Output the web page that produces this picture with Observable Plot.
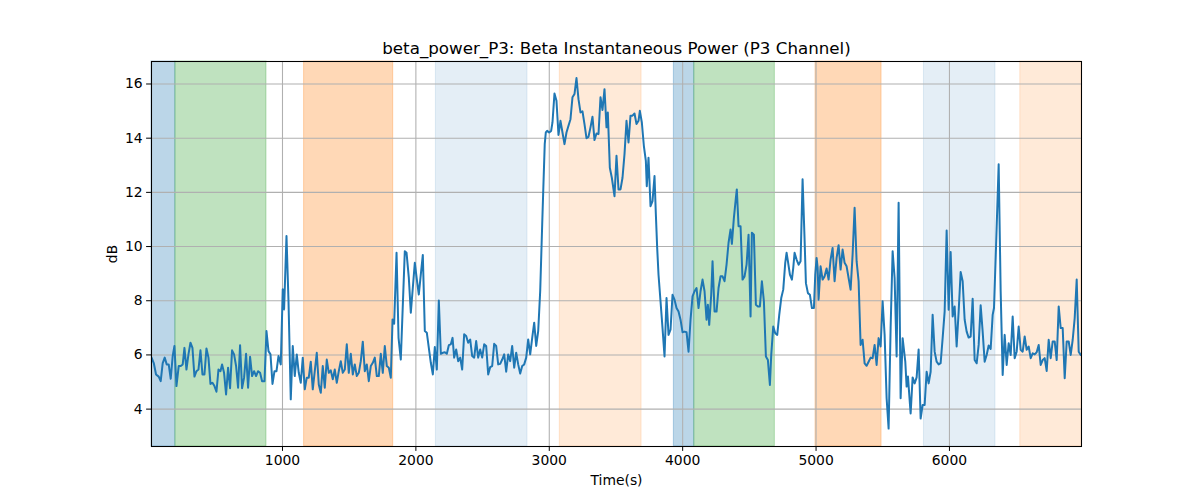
<!DOCTYPE html>
<html><head><meta charset="utf-8">
<script src="https://cdn.jsdelivr.net/npm/d3@7"></script>
<script src="https://cdn.jsdelivr.net/npm/@observablehq/plot@0.6"></script>
<style>body{margin:0;background:#fff}</style>
</head><body><div id="chart"></div>
<script>
const title = "beta_power_P3: Beta Instantaneous Power (P3 Channel)";
const xLabel = "Time(s)";
const yLabel = "dB";
const xTicks = [1000, 2000, 3000, 4000, 5000, 6000];
const yTicks = [4, 6, 8, 10, 12, 14, 16];

const times = [
18,35,52,72,87,102,117,132,147,162,177,190,205,222,237,252,265,280,295,310,325,340,355,370,385,400,415,430,445,460,475,490,505,520,535,547,562,577,592,607,622,637,652,667,682,697,712,727,742,757,772,787,802,817,832,847,865,880,895,910,925,940,955,970,
987,1002,1012,1030,1045,1062,1077,1092,1107,1122,1137,1152,1167,1182,1197,1212,1227,1242,1257,1272,1287,1302,1317,1332,1347,1362,1377,1392,1407,1422,1437,1452,1467,1482,1497,1512,1527,1542,1557,1572,1587,1602,1617,1632,1647,1662,1677,1692,1707,1722,1737,1752,1767,1782,1797,1812,
1825,1837,1855,1870,1887,1917,1930,1947,1962,1977,1992,2007,2022,2037,2052,2067,2082,2097,2112,2127,2142,2157,2172,2187,2202,2217,2232,2247,2262,2275,2287,2302,2317,2332,2347,2362,2377,2392,2407,2422,2437,2452,2467,2482,2497,2512,2527,2542,2557,2572,2587,2602,2617,2632,2647,2662,2677,2692,2707,2722,2737,2752,2767,2782,2797,2812,2827,2842,2857,2872,2887,2902,2917,2932,2947,2957,2966,
2974,2984,2999,3014,3024,3039,3054,3069,3084,3099,3114,3129,3144,3159,3174,3189,3204,3219,3234,3249,3264,3279,3294,3309,3324,3339,3354,3369,3384,3399,3414,3429,3439,3454,3469,3489,3504,3519,3534,3549,3564,3579,3594,3609,3624,3639,3654,3669,
3679,3694,3709,3724,3731,3744,3759,3774,3789,3799,3809,3819,3834,3849,3864,3879,3894,3909,3924,3939,3954,3969,3984,3999,4014,4029,4044,4059,4074,4089,4104,4119,4134,4149,4164,4179,4189,4199,4214,4224,4239,4254,4269,4284,4299,4314,4329,4344,
4359,4369,4384,4399,4406,4419,4434,4449,4464,4479,4494,4509,4519,4534,4549,4564,4579,4594,4609,4624,4639,4654,4664,4679,4694,4709,4724,4739,4754,4769,4779,4789,4804,4819,4829,4839,4854,4869,4884,4899,4914,4924,4939,4954,4969,4984,4994,
5004,5012,5019,5034,5049,5064,5079,5094,5109,5124,5139,5154,5169,5184,5199,5214,5229,5244,5259,5274,5289,5304,5319,5334,5349,5364,5379,5394,5409,5424,5439,5454,5469,5484,5499,5514,5529,5544,5559,5574,5589,5604,5619,5634,5649,
5669,5679,5689,5709,5724,5739,5754,5769,5784,5799,5814,5829,5844,5859,5874,5889,5904,5919,5934,5949,5964,5979,5994,6009,6024,6039,6054,6069,6084,6099,6114,6129,6144,6159,6174,6189,6204,6219,6234,6249,6264,6279,6294,6309,6324,
6334,6349,6369,6384,6399,6414,6429,6444,6459,6474,6489,6504,6519,6534,6549,6564,6579,6594,6609,6624,6639,6654,6669,6684,6699,6714,6729,6744,6759,6774,6789,6804,6819,6834,6849,6864,6879,6894,6909,6924,6939,6954,6969,6984,6990
];
const values = [
5.9,5.7,5.28,5.2,5.03,5.7,5.9,5.65,5.65,5.12,5.96,6.33,4.85,5.59,5.59,5.65,6.26,5.46,6.02,6.45,6.26,5.2,5.4,5.46,6.17,5.28,5.28,6.24,5.9,4.93,4.97,4.85,4.64,5.46,5.4,5.65,5.34,4.54,5.53,4.77,6.17,6.02,5.59,4.79,6.36,4.77,5.16,6.04,4.79,5.93,5.22,5.4,5.22,5.4,5.34,5.03,5.03,6.88,6.14,6.02,4.93,5.4,5.4,5.96,
5.65,8.42,7.68,10.39,7.99,4.36,6.33,5.22,6.02,5.34,4.97,5.9,4.73,5.16,5.16,5.75,4.73,5.4,6.08,4.91,4.6,5.59,4.79,5.83,5.34,5.43,5.1,5.46,4.97,5.4,5.77,5.34,5.46,6.39,5.34,6.04,5.28,5.65,5.22,5.34,5.77,6.49,5.4,5.65,5.03,5.59,5.71,5.9,5.22,5.22,6.04,5.34,6.33,5.59,5.53,5.16,
7.31,7.15,9.77,6.63,5.83,9.83,9.77,8.85,7.56,8.48,9.4,8.79,8.23,8.97,9.69,6.88,6.82,6.26,5.71,5.28,6.29,5.46,8.01,6.04,6.08,6.1,6.04,6.36,6.39,6.63,5.9,6.2,5.77,5.9,5.46,6.76,6.7,6.45,6.57,5.96,5.9,6.51,5.9,6.2,5.9,6.39,6.33,5.28,5.55,5.59,6.41,6.33,5.65,5.67,5.83,6.02,5.38,6.02,5.77,6.33,5.53,6.08,5.65,5.31,5.59,5.65,5.9,6.57,6.02,6.63,7.19,6.33,6.88,8.36,10.82,12.4,13.78,
14.21,14.27,14.21,14.27,14.58,15.65,15.38,14.12,14.64,14.21,13.78,14.21,14.46,14.7,15.51,15.63,16.22,15.44,14.95,14.99,14.52,14.0,14.05,14.4,14.79,13.93,14.17,14.15,15.51,15.04,15.81,14.4,14.95,12.91,12.54,11.86,13.35,12.11,12.11,12.54,13.41,14.64,13.84,14.83,14.83,14.91,14.52,14.64,
15.01,14.58,13.72,13.16,12.23,13.28,11.49,11.68,12.6,11.19,9.95,8.96,7.98,6.99,5.94,8.1,6.74,6.93,8.22,8.04,7.73,7.6,7.3,6.84,6.86,6.84,6.12,7.3,8.16,8.35,8.47,7.73,8.35,8.78,8.35,7.3,7.85,7.11,8.22,9.46,7.6,7.6,8.47,8.9,8.9,8.72,9.33,10.14,
10.63,10.1,11.06,11.8,12.11,10.75,10.75,8.78,8.9,9.33,10.44,7.42,10.51,10.44,7.85,7.79,7.79,8.72,7.98,5.94,5.81,4.89,6.0,7.05,6.8,6.74,7.48,8.1,8.41,9.4,9.77,9.46,8.96,8.78,9.21,9.77,9.52,9.33,9.46,12.48,10.26,8.65,8.28,8.22,7.73,7.73,8.96,
9.58,9.21,8.04,9.27,8.78,8.9,9.19,8.78,9.52,9.95,8.72,9.58,10.05,9.15,9.89,9.4,9.27,8.84,8.41,9.7,11.43,9.46,8.72,6.37,6.56,5.69,5.6,5.75,5.9,5.88,6.37,5.63,6.62,6.31,7.98,6.74,4.4,3.28,6.99,9.83,8.84,5.94,11.62,4.4,6.62,
5.75,4.83,5.2,3.84,5.17,4.95,5.17,6.2,3.65,4.15,4.15,5.38,4.95,5.38,7.48,6.12,5.75,5.65,5.7,6.62,7.6,10.59,7.67,9.8,7.42,7.79,6.31,7.6,9.06,8.72,7.3,6.86,6.64,6.68,8.07,5.81,5.69,6.37,7.83,6.86,5.75,6.0,6.35,6.22,7.48,
7.73,9.95,13.04,8.35,5.26,6.74,5.63,6.43,6.0,7.42,5.88,6.12,7.05,6.19,6.12,6.68,6.19,6.31,5.88,6.06,6.02,6.1,6.37,5.63,5.81,5.88,5.41,6.56,5.88,6.5,6.5,5.81,7.79,6.99,6.99,5.14,6.5,6.5,6.0,6.56,7.36,8.78,6.12,6.0,6.0
];

const spanStart = [18, 197, 1162, 2150, 3079, 3934, 4087, 4996, 5809, 6531];
const spanEnd   = [197, 880, 1830, 2837, 3692, 4087, 4691, 5491, 6345, 6990];
const spanColor = ["#1f77b4", "#2ca02c", "#ff7f0e", "#1f77b4", "#ff7f0e", "#1f77b4", "#2ca02c", "#ff7f0e", "#1f77b4", "#ff7f0e"];
const spanAlpha = [0.3, 0.3, 0.3, 0.12, 0.16, 0.3, 0.3, 0.3, 0.12, 0.16];

const series = times.map((t, i) => ({t, v: values[i]}));
const spans = spanStart.map((s, i) => ({x1: s, x2: spanEnd[i], color: spanColor[i], a: spanAlpha[i]}));

const chart = Plot.plot({
  width: 1200, height: 500,
  marginLeft: 151, marginRight: 119, marginTop: 61, marginBottom: 54,
  style: {fontFamily: "DejaVu Sans", fontSize: "13.9px", background: "#fff", color: "#000"},
  opacity: {type: "identity"},
  x: {domain: [18, 6990]},
  y: {domain: [2.62, 16.83]},
  marks: [
    Plot.rect(spans, {x1: "x1", x2: "x2", fill: "color", fillOpacity: "a", stroke: "color", strokeOpacity: "a", strokeWidth: 1}),
    Plot.gridX(xTicks, {stroke: "#b0b0b0", strokeOpacity: 1, strokeWidth: 1.07}),
    Plot.gridY(yTicks, {stroke: "#b0b0b0", strokeOpacity: 1, strokeWidth: 1.07}),
    Plot.line(series, {x: "t", y: "v", stroke: "#1f77b4", strokeWidth: 2, clip: true}),
    Plot.frame({stroke: "#000", strokeWidth: 1.07}),
    Plot.axisX(xTicks, {tickSize: 4.9, tickPadding: 4, tickFormat: d => String(d), label: xLabel, labelAnchor: "center", labelArrow: "none", labelOffset: 38}),
    Plot.axisY(yTicks, {tickSize: 4.9, tickPadding: 4, tickFormat: d => String(d), label: yLabel, labelAnchor: "center", labelArrow: "none", labelOffset: 44}),
    Plot.text([title], {frameAnchor: "top", dy: -19, fontSize: 16.7})
  ]
});
document.getElementById("chart").appendChild(chart);
</script>
</body></html>
